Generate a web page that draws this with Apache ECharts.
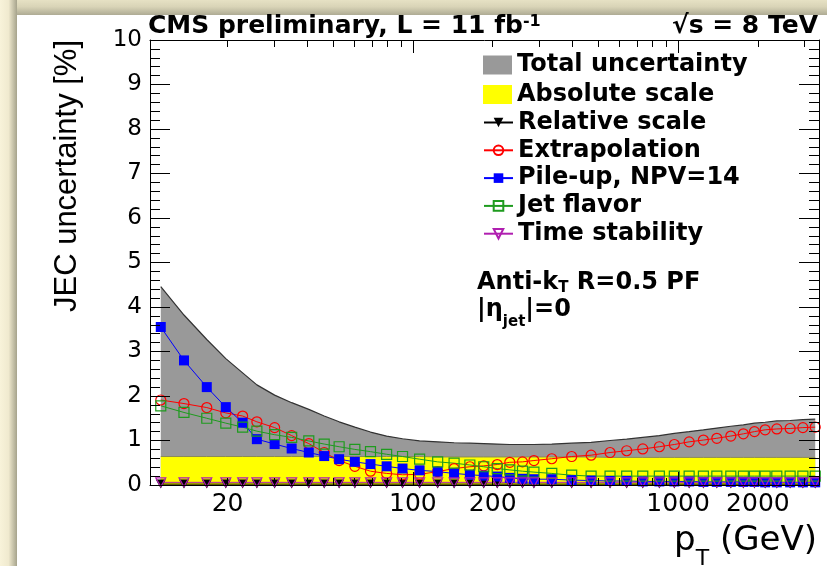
<!DOCTYPE html>
<html>
<head>
<meta charset="utf-8">
<script src="https://cdn.jsdelivr.net/npm/echarts@6.0.0/dist/echarts.min.js"></script>
<style>
html,body{margin:0;padding:0;background:#fff;}
#frame{position:absolute;left:0;top:0;width:827px;height:566px;overflow:hidden;background:#fff;}
#topbar{position:absolute;left:0;top:0;width:827px;height:15px;background:linear-gradient(to bottom,#e6e1c4 0%,#d9d4b7 45%,#aeab94 100%);}
#leftbar{position:absolute;left:0;top:0;width:17px;height:566px;background:linear-gradient(to right,#f8f3da 0%,#f0eacf 50%,#a6a38c 100%);}
#chart{position:absolute;left:0;top:0;width:827px;height:566px;}
</style>
</head>
<body>
<div id="frame">
  <div id="topbar"></div>
  <div id="leftbar"></div>
  <div id="chart"></div>
</div>
<script>
// ---------------- data ----------------
const pt = [11.2, 13.7, 16.7, 19.7, 22.8, 25.8, 30.1, 34.9, 40.5, 46.3,
            52.7, 60.4, 69.2, 79.6, 91.4, 106, 124, 143, 164, 185,
            208, 232, 259, 286, 334, 397, 470, 554, 640, 736,
            850, 968, 1101, 1246, 1400, 1581, 1763, 1941, 2130, 2357,
            2646, 2956, 3290];

const totalUnc = [4.46, 3.82, 3.27, 2.84, 2.52, 2.25, 2.02, 1.85, 1.70, 1.55,
                  1.42, 1.30, 1.19, 1.10, 1.04, 0.99, 0.97, 0.95, 0.94, 0.93,
                  0.92, 0.91, 0.91, 0.91, 0.92, 0.94, 0.96, 1.00, 1.03, 1.07,
                  1.11, 1.16, 1.20, 1.24, 1.28, 1.32, 1.35, 1.39, 1.41, 1.44,
                  1.45, 1.47, 1.48];

const absScale = [0.64, 0.64, 0.64, 0.64, 0.64, 0.64, 0.64, 0.64, 0.64, 0.64,
                  0.64, 0.64, 0.64, 0.64, 0.64, 0.64, 0.63, 0.63, 0.63, 0.63,
                  0.63, 0.63, 0.63, 0.63, 0.63, 0.63, 0.63, 0.62, 0.62, 0.62,
                  0.62, 0.62, 0.62, 0.62, 0.62, 0.62, 0.62, 0.62, 0.62, 0.62,
                  0.62, 0.62, 0.62];

const relScale = [0.02, 0.02, 0.02, 0.02, 0.02, 0.02, 0.02, 0.02, 0.02, 0.02,
                  0.02, 0.02, 0.02, 0.02, 0.02, 0.02, 0.02, 0.02, 0.02, 0.02,
                  0.02, 0.02, 0.02, 0.02, 0.02, 0.02, 0.02, 0.02, 0.02, 0.02,
                  0.02, 0.02, 0.02, 0.02, 0.02, 0.02, 0.02, 0.02, 0.02, 0.02,
                  0.02, 0.02, 0.02];

const extrapolation = [1.91, 1.83, 1.74, 1.62, 1.55, 1.42, 1.29, 1.11, 0.93, 0.73,
                       0.55, 0.42, 0.31, 0.26, 0.23, 0.24, 0.30, 0.37, 0.41, 0.43,
                       0.46, 0.51, 0.52, 0.55, 0.59, 0.64, 0.67, 0.73, 0.77, 0.81,
                       0.86, 0.91, 0.97, 1.01, 1.05, 1.10, 1.15, 1.20, 1.24, 1.26,
                       1.27, 1.29, 1.30];

const pileUp = [3.55, 2.80, 2.20, 1.75, 1.40, 1.03, 0.92, 0.82, 0.73, 0.65,
                0.58, 0.52, 0.47, 0.42, 0.37, 0.33, 0.30, 0.26, 0.23, 0.21,
                0.19, 0.16, 0.14, 0.13, 0.13, 0.11, 0.10, 0.09, 0.09, 0.08,
                0.08, 0.08, 0.08, 0.07, 0.07, 0.07, 0.07, 0.07, 0.06, 0.06,
                0.06, 0.06, 0.06];

const jetFlavor = [1.78, 1.63, 1.50, 1.39, 1.30, 1.21, 1.13, 1.07, 0.99, 0.92,
                   0.86, 0.80, 0.75, 0.69, 0.64, 0.58, 0.52, 0.49, 0.45, 0.41,
                   0.37, 0.34, 0.31, 0.29, 0.26, 0.22, 0.20, 0.20, 0.20, 0.20,
                   0.20, 0.20, 0.20, 0.20, 0.20, 0.20, 0.20, 0.20, 0.20, 0.20,
                   0.20, 0.20, 0.20];

const timeStability = [0.06, 0.06, 0.06, 0.06, 0.06, 0.06, 0.06, 0.06, 0.06, 0.06,
                       0.06, 0.06, 0.06, 0.06, 0.06, 0.06, 0.06, 0.06, 0.06, 0.06,
                       0.06, 0.06, 0.06, 0.06, 0.06, 0.06, 0.06, 0.06, 0.06, 0.06,
                       0.06, 0.06, 0.06, 0.06, 0.06, 0.06, 0.06, 0.06, 0.06, 0.06,
                       0.06, 0.06, 0.06];

const xTickLabels = [20, 100, 200, 1000, 2000];
const xMinorTicks = [20, 30, 40, 50, 60, 70, 80, 90, 200, 300, 400, 500, 600, 700, 800, 900, 2000, 3000];
const xMajorTicks = [100, 1000];

const seriesNames = ['Total uncertainty', 'Absolute scale', 'Relative scale', 'Extrapolation',
                     'Pile-up, NPV=14', 'Jet flavor', 'Time stability'];

// ---------------- layout / style helpers ----------------
const FONT = 'DejaVu Sans';
const X_MIN = 10.2, X_MAX = 3400;
const Y_MIN = 0, Y_MAX = 10;
const PLOT = { left: 150, top: 40, width: 669, height: 445 };
const pairs = arr => pt.map((p, i) => [p, arr[i]]);

function yTitleFont() {
  const c = document.createElement('canvas').getContext('2d');
  const txt = 'JEC uncertainty [%]';
  c.font = '36px "Liberation Sans Narrow", monospace';
  const wn = c.measureText(txt).width;
  c.font = '36px monospace';
  const wm = c.measureText(txt).width;
  const fam = Math.abs(wn - wm) > 0.5 ? 'Liberation Sans Narrow' : 'Liberation Sans';
  c.font = '36px "' + fam + '"';
  const w = c.measureText(txt).width;
  let size = 36 * 272 / w;
  if (size > 44) size = 44;
  return { fam: fam, size: size };
}
const yt = yTitleFont();

const tickStyle = () => ({ color: '#000', width: 1 });

// ---- main grid + axes ----
const grids = [ { left: PLOT.left, top: PLOT.top, width: PLOT.width, height: PLOT.height } ];
const xAxes = [
  { type: 'log', min: X_MIN, max: X_MAX, logBase: 10, gridIndex: 0, position: 'bottom', z: 6,
    axisLine: { show: true, onZero: false, lineStyle: { color: '#000', width: 1 } },
    axisTick: { show: true, inside: true, length: 7, customValues: xMinorTicks, lineStyle: tickStyle() },
    axisLabel: { show: true, customValues: xTickLabels, margin: 7, fontFamily: FONT, fontSize: 25, color: '#000',
                 formatter: v => String(Math.round(v)) },
    splitLine: { show: false } },
  { type: 'log', min: X_MIN, max: X_MAX, logBase: 10, gridIndex: 0, position: 'top', z: 6,
    axisLine: { show: true, onZero: false, lineStyle: { color: '#000', width: 1 } },
    axisTick: { show: false }, axisLabel: { show: false }, splitLine: { show: false } }
];
const yAxes = [
  { type: 'value', min: Y_MIN, max: Y_MAX, interval: 1, gridIndex: 0, position: 'left', z: 6,
    axisLine: { show: true, onZero: false, lineStyle: { color: '#000', width: 1 } },
    axisTick: { show: true, inside: true, length: 20, lineStyle: tickStyle() },
    minorTick: { show: true, splitNumber: 5, length: 10, lineStyle: tickStyle() },
    axisLabel: { show: true, margin: 8, fontFamily: FONT, fontSize: 23, color: '#000' },
    splitLine: { show: false } },
  { type: 'value', min: Y_MIN, max: Y_MAX, interval: 1, gridIndex: 0, position: 'right', z: 6,
    axisLine: { show: true, onZero: false, lineStyle: { color: '#000', width: 1 } },
    axisTick: { show: false }, axisLabel: { show: false }, splitLine: { show: false } }
];

// ---- tick strips: narrow grids whose split lines form the inside ticks ----
function yTickStrip(left, width, interval) {
  const g = grids.length;
  grids.push({ left: left, top: PLOT.top, width: width, height: PLOT.height });
  xAxes.push({ type: 'value', gridIndex: g, min: 0, max: 1, show: false });
  yAxes.push({ type: 'value', gridIndex: g, min: Y_MIN, max: Y_MAX, interval: interval, z: 6,
    axisLine: { show: false }, axisTick: { show: false }, axisLabel: { show: false },
    splitLine: { show: true, lineStyle: tickStyle() } });
}
function xTickStrip(top, height, values) {
  const g = grids.length;
  grids.push({ left: PLOT.left, top: top, width: PLOT.width, height: height });
  yAxes.push({ type: 'value', gridIndex: g, min: 0, max: 1, show: false });
  xAxes.push({ type: 'log', gridIndex: g, min: X_MIN, max: X_MAX, logBase: 10, z: 6,
    axisLine: { show: false }, axisLabel: { show: false },
    axisTick: { show: false, customValues: values },
    splitLine: { show: true, lineStyle: tickStyle() } });
}
yTickStrip(PLOT.left, 20, 1);                          // left major (length 20)
yTickStrip(PLOT.left, 10, 0.2);                        // left minor (length 10)
yTickStrip(PLOT.left + PLOT.width - 20, 20, 1);        // right major
yTickStrip(PLOT.left + PLOT.width - 10, 10, 0.2);      // right minor
xTickStrip(PLOT.top, 7, xMinorTicks);                  // top minor (length 7)
xTickStrip(PLOT.top, 13, xMajorTicks);                 // top major (length 13)
xTickStrip(PLOT.top + PLOT.height - 7, 7, xMinorTicks);   // bottom minor
xTickStrip(PLOT.top + PLOT.height - 13, 13, xMajorTicks); // bottom major

const chart = echarts.init(document.getElementById('chart'), null, { renderer: 'canvas' });

const option = {
  animation: false,
  grid: grids,
  title: [
    { text: '{b|CMS preliminary, L = 11 fb}{sup|-1}', left: 148, top: 14, padding: 0,
      textStyle: { rich: {
        b: { fontFamily: FONT, fontWeight: 'bold', fontSize: 25, lineHeight: 25, verticalAlign: 'top', color: '#000' },
        sup: { fontFamily: FONT, fontWeight: 'bold', fontSize: 16, lineHeight: 16, verticalAlign: 'top', color: '#000' } } } },
    { text: '{b|√s = 8 TeV}', right: 9, top: 14, padding: 0,
      textStyle: { rich: {
        b: { fontFamily: FONT, fontWeight: 'bold', fontSize: 25, lineHeight: 25, verticalAlign: 'top', color: '#000' } } } },
    { text: '{b|Anti-k}{s|T}{b| R=0.5 PF}', left: 477, top: 271, padding: 0,
      textStyle: { rich: {
        b: { fontFamily: FONT, fontWeight: 'bold', fontSize: 24, lineHeight: 25, verticalAlign: 'top', color: '#000' },
        s: { fontFamily: FONT, fontWeight: 'bold', fontSize: 15, lineHeight: 15, verticalAlign: 'top', padding: [10, 0, 0, 0], color: '#000' } } } },
    { text: '{b||η}{s|jet}{b||=0}', left: 477, top: 298, padding: 0,
      textStyle: { rich: {
        b: { fontFamily: FONT, fontWeight: 'bold', fontSize: 24, lineHeight: 25, verticalAlign: 'top', color: '#000' },
        s: { fontFamily: FONT, fontWeight: 'bold', fontSize: 15, lineHeight: 15, verticalAlign: 'top', padding: [17, 0, 0, 0], color: '#000' } } } },
    { text: '{p|p}{s|T}{p| (GeV)}', right: 10, top: 524, padding: 0,
      textStyle: { fontWeight: 'normal', rich: {
        p: { fontFamily: FONT, fontWeight: 'normal', fontSize: 34, lineHeight: 34, verticalAlign: 'top', color: '#000' },
        s: { fontFamily: FONT, fontWeight: 'normal', fontSize: 22, lineHeight: 22, verticalAlign: 'top', padding: [24, 0, 0, 0], color: '#000' } } } }
  ],
  graphic: [
    { type: 'text', x: 67, y: 40, rotation: Math.PI / 2, z: 10,
      style: { text: 'JEC uncertainty [%]', fontFamily: yt.fam, fontSize: yt.size,
               fill: '#000', align: 'right', verticalAlign: 'middle' } }
  ],
  legend: [
    { data: [ { name: seriesNames[0], icon: 'rect' }, { name: seriesNames[1], icon: 'rect' } ],
      orient: 'vertical', left: 483, top: 53, padding: 0, itemWidth: 29, itemHeight: 19, itemGap: 5.5,
      selectedMode: false,
      textStyle: { fontFamily: FONT, fontWeight: 'bold', fontSize: 24, lineHeight: 20, color: '#000' } },
    { data: seriesNames.slice(2),
      orient: 'vertical', left: 483, top: 110.5, padding: 0, itemWidth: 29, itemHeight: 12, itemGap: 3.8,
      selectedMode: false,
      textStyle: { fontFamily: FONT, fontWeight: 'bold', fontSize: 24, lineHeight: 20, color: '#000' } }
  ],
  xAxis: xAxes,
  yAxis: yAxes,
  series: [
    { name: seriesNames[0], type: 'line', data: pairs(totalUnc), symbol: 'none', showSymbol: false,
      xAxisIndex: 0, yAxisIndex: 0, silent: true,
      itemStyle: { color: '#999999' }, lineStyle: { color: '#333333', width: 1.2 },
      areaStyle: { color: '#999999', opacity: 1 } },
    { name: seriesNames[1], type: 'line', data: pairs(absScale), symbol: 'none', showSymbol: false,
      xAxisIndex: 0, yAxisIndex: 0, silent: true,
      itemStyle: { color: '#ffff00' }, lineStyle: { color: '#8c8c55', width: 1 },
      areaStyle: { color: '#ffff00', opacity: 1 } },
    { name: seriesNames[2], type: 'line', data: pairs(relScale), symbol: 'triangle', symbolRotate: 180,
      symbolSize: [10, 9], xAxisIndex: 0, yAxisIndex: 0, silent: true,
      itemStyle: { color: '#000000' }, lineStyle: { color: '#000000', width: 1 } },
    { name: seriesNames[3], type: 'line', data: pairs(extrapolation), symbol: 'circle', symbolSize: 10,
      xAxisIndex: 0, yAxisIndex: 0, silent: true,
      itemStyle: { color: 'rgba(255,255,255,0)', borderColor: '#ff0000', borderWidth: 1.2 },
      lineStyle: { color: '#ff0000', width: 1 } },
    { name: seriesNames[4], type: 'line', data: pairs(pileUp), symbol: 'rect', symbolSize: 10,
      xAxisIndex: 0, yAxisIndex: 0, silent: true,
      itemStyle: { color: '#0000ff' }, lineStyle: { color: '#0000ff', width: 1 } },
    { name: seriesNames[5], type: 'line', data: pairs(jetFlavor), symbol: 'rect', symbolSize: 10,
      xAxisIndex: 0, yAxisIndex: 0, silent: true,
      itemStyle: { color: 'rgba(255,255,255,0)', borderColor: '#1e9b1e', borderWidth: 1.2 },
      lineStyle: { color: '#1e9b1e', width: 1 } },
    { name: seriesNames[6], type: 'line', data: pairs(timeStability), symbol: 'triangle', symbolRotate: 180,
      symbolSize: [10, 9], xAxisIndex: 0, yAxisIndex: 0, silent: true,
      itemStyle: { color: 'rgba(255,255,255,0)', borderColor: '#b01fb0', borderWidth: 1.2 },
      lineStyle: { color: '#b01fb0', width: 1 } }
  ]
};

chart.setOption(option);
</script>
</body>
</html>
